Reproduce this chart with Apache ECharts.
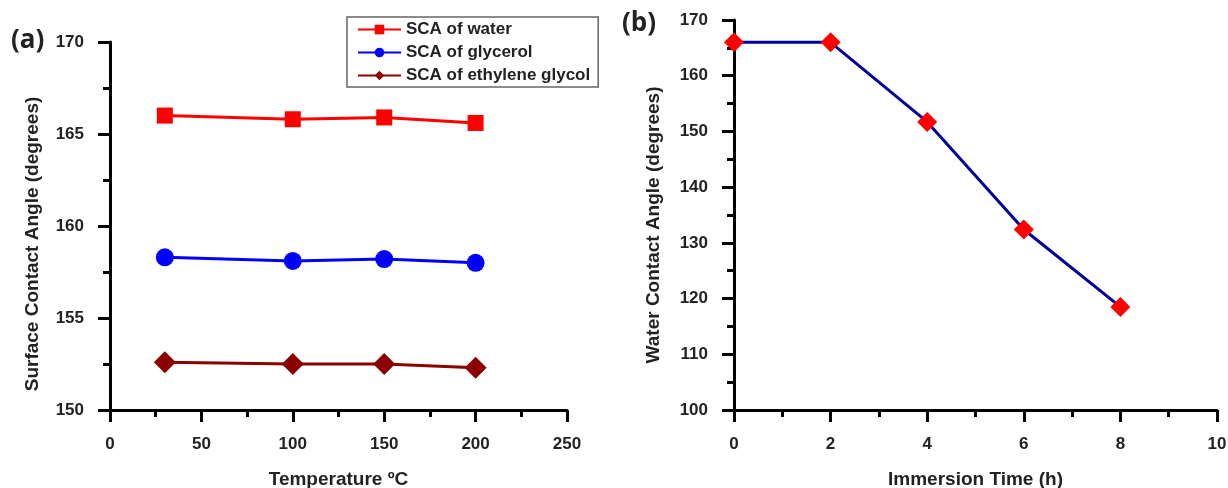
<!DOCTYPE html>
<html lang="en">
<head>
    <meta charset="UTF-8">
    <title>Contact angle</title>
    <script src="https://cdn.jsdelivr.net/npm/echarts@6/dist/echarts.min.js"></script>
    <style>
        html, body { margin: 0; padding: 0; background: #fff; }
        #chart { width: 1228px; height: 488px; }
    </style>
</head>
<body>
<div id="chart"></div>
<script>
    // panel (a): temperature vs contact angle
    var temps = [30, 100, 150, 200];
    var scaWater = [166.0, 165.8, 165.9, 165.6];
    var scaGlycerol = [158.3, 158.1, 158.2, 158.0];
    var scaEthylene = [152.6, 152.5, 152.5, 152.3];
    // panel (b): immersion time vs water contact angle
    var hours = [0, 2, 4, 6, 8];
    var wca = [166.0, 166.0, 151.7, 132.4, 118.5];

    function pairs(xs, ys) {
        return xs.map(function (x, i) { return [x, ys[i]]; });
    }

    var font = 'Liberation Sans';
    var axisLine = { lineStyle: { color: '#000', width: 3 } };
    var axisTick = { inside: false, length: 12, lineStyle: { color: '#000', width: 3 } };
    var minorTick = { show: true, splitNumber: 2, length: 7, lineStyle: { color: '#000', width: 3 } };
    var axisLabel = { color: '#222', fontFamily: font, fontWeight: 'bold', fontSize: 17, margin: 26 };
    function nameStyle(pad) {
        return { color: '#222', fontFamily: font, fontWeight: 'bold', fontSize: 19, padding: pad };
    }

    var myChart = echarts.init(document.getElementById('chart'));
    var option = {
        backgroundColor: '#fff',
        animation: false,
        grid: [
            { left: 110, right: 661, top: 42, bottom: 78, outerBoundsMode: 'none' },
            { left: 734, right: 11, top: 20, bottom: 78, outerBoundsMode: 'none' }
        ],
        legend: {
            left: 347, top: 17,
            orient: 'vertical',
            data: ['SCA of water', 'SCA of glycerol', 'SCA of ethylene glycol'],
            borderColor: '#666', borderWidth: 1.5,
            padding: [4, 8, 3, 10],
            itemWidth: 43, itemHeight: 12, itemGap: 6,
            textStyle: { color: '#222', fontFamily: font, fontWeight: 'bold', fontSize: 17 }
        },
        graphic: [
            { type: 'text', left: 11, top: 28, style: { text: '(a)', fontFamily: 'Open Sans', fontWeight: 'bold', fontSize: 26, fill: '#222' } },
            { type: 'text', left: 622, top: 11, style: { text: '(b)', fontFamily: 'Open Sans', fontWeight: 'bold', fontSize: 26, fill: '#222' } }
        ],
        xAxis: [
            {
                gridIndex: 0, type: 'value', min: 0, max: 250, interval: 50,
                name: 'Temperature ºC', nameLocation: 'middle', nameGap: 60, nameTextStyle: nameStyle(0),
                axisLine: axisLine, axisTick: axisTick, minorTick: minorTick, axisLabel: axisLabel,
                splitLine: { show: false }
            },
            {
                gridIndex: 1, type: 'value', min: 0, max: 10, interval: 2,
                name: 'Immersion Time (h)', nameLocation: 'middle', nameGap: 60, nameTextStyle: nameStyle(0),
                axisLine: axisLine, axisTick: axisTick, minorTick: minorTick, axisLabel: axisLabel,
                splitLine: { show: false }
            }
        ],
        yAxis: [
            {
                gridIndex: 0, type: 'value', min: 150, max: 170, interval: 5,
                name: 'Surface Contact Angle (degrees)', nameLocation: 'middle', nameGap: 68,
                nameTextStyle: nameStyle([0, 36, 0, 0]),
                axisLine: axisLine, axisTick: axisTick, minorTick: minorTick, axisLabel: axisLabel,
                splitLine: { show: false }
            },
            {
                gridIndex: 1, type: 'value', min: 100, max: 170, interval: 10,
                name: 'Water Contact Angle (degrees)', nameLocation: 'middle', nameGap: 71,
                nameTextStyle: nameStyle([0, 20, 0, 0]),
                axisLine: axisLine, axisTick: axisTick, minorTick: minorTick, axisLabel: axisLabel,
                splitLine: { show: false }
            }
        ],
        series: [
            {
                name: 'SCA of water', type: 'line', xAxisIndex: 0, yAxisIndex: 0,
                data: pairs(temps, scaWater), symbol: 'rect', symbolSize: 16,
                itemStyle: { color: '#ff0000' }, lineStyle: { color: '#ff0000', width: 3 }
            },
            {
                name: 'SCA of glycerol', type: 'line', xAxisIndex: 0, yAxisIndex: 0,
                data: pairs(temps, scaGlycerol), symbol: 'circle', symbolSize: 18,
                itemStyle: { color: '#0000ff' }, lineStyle: { color: '#0000ff', width: 3 }
            },
            {
                name: 'SCA of ethylene glycol', type: 'line', xAxisIndex: 0, yAxisIndex: 0,
                data: pairs(temps, scaEthylene), symbol: 'diamond', symbolSize: 22,
                itemStyle: { color: '#8b0000' }, lineStyle: { color: '#8b0000', width: 3 }
            },
            {
                name: 'WCA', type: 'line', xAxisIndex: 1, yAxisIndex: 1,
                data: pairs(hours, wca), symbol: 'diamond', symbolSize: 20,
                itemStyle: { color: '#ff0000' }, lineStyle: { color: '#00009c', width: 3 }
            }
        ]
    };
    myChart.setOption(option);
</script>
</body>
</html>
